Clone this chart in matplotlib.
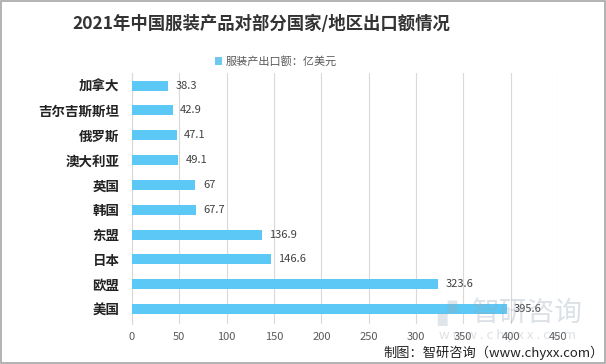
import matplotlib
matplotlib.use('Agg')
import matplotlib.pyplot as plt
from matplotlib.patches import Patch, Rectangle

plt.rcParams['font.family'] = ['Noto Sans CJK SC', 'DejaVu Sans']

# data
regions = ['加拿大', '吉尔吉斯斯坦', '俄罗斯', '澳大利亚', '英国', '韩国', '东盟', '日本', '欧盟', '美国']
values = [38.3, 42.9, 47.1, 49.1, 67, 67.7, 136.9, 146.6, 323.6, 395.6]
xticks = [0, 50, 100, 150, 200, 250, 300, 350, 400, 450]

bar_color = '#5BC8F5'

fig = plt.figure(figsize=(6.06, 3.64), dpi=100)
ax = fig.add_axes([0.2178, 0.11, 0.703, 0.689])

ypos = list(range(len(regions)))
ax.barh(ypos, values, height=0.4, color=bar_color, zorder=3)
for y, v in zip(ypos, values):
    ax.text(v + 8, y, f'{v:g}', va='center', ha='left', fontsize=8, color='#404040', zorder=4)

ax.set_yticks(ypos)
ax.set_yticklabels(regions, fontsize=9.7, fontweight='bold', color='#222222')
ax.set_ylim(len(regions) - 0.4, -0.5)
ax.set_xlim(0, 450)
ax.set_xticks(xticks)
ax.set_xticklabels([str(t) for t in xticks], fontsize=8, color='#595959')
ax.grid(axis='x', color='#D9D9D9', linewidth=0.8, zorder=0)
ax.tick_params(axis='y', length=0, pad=9)
ax.tick_params(axis='x', length=0, pad=6)
for s in ['top', 'right', 'bottom']:
    ax.spines[s].set_visible(False)
ax.spines['left'].set_color('#D9D9D9')

fig.text(0.432, 0.935, '2021年中国服装产品对部分国家/地区出口额情况', ha='center', va='center',
         fontsize=12.5, fontweight='bold', color='#333333')

handle = Patch(facecolor='#6DC9F0', edgecolor='none')
fig.legend([handle], ['服装产出口额：亿美元'], loc='center', bbox_to_anchor=(0.455, 0.832),
           frameon=False, fontsize=8, handlelength=0.7, handleheight=0.7, handletextpad=0.3,
           labelcolor='#595959')

# watermark
fig.text(0.737, 0.14, '▞', ha='center', va='center', fontsize=18, color='#9AA9B8', alpha=0.3,
         family=['DejaVu Sans'])
fig.text(0.870, 0.14, '智研咨询', ha='center', va='center', fontsize=20, color='#9AA9B8', alpha=0.35)
fig.text(0.838, 0.079, 'w w w . c h y x x . c o m', ha='center', va='center', fontsize=9.5,
         color='#9AA9B8', alpha=0.35)

fig.text(0.996, 0.03, '制图：智研咨询（www.chyxx.com）', ha='right', va='center', fontsize=9.5, color='#222222')

fig.patches.append(Rectangle((0.001, 0.002), 0.997, 0.995, transform=fig.transFigure,
                             fill=False, edgecolor='#A6A6A6', linewidth=1.2))

fig.savefig('out.png', dpi=100)
